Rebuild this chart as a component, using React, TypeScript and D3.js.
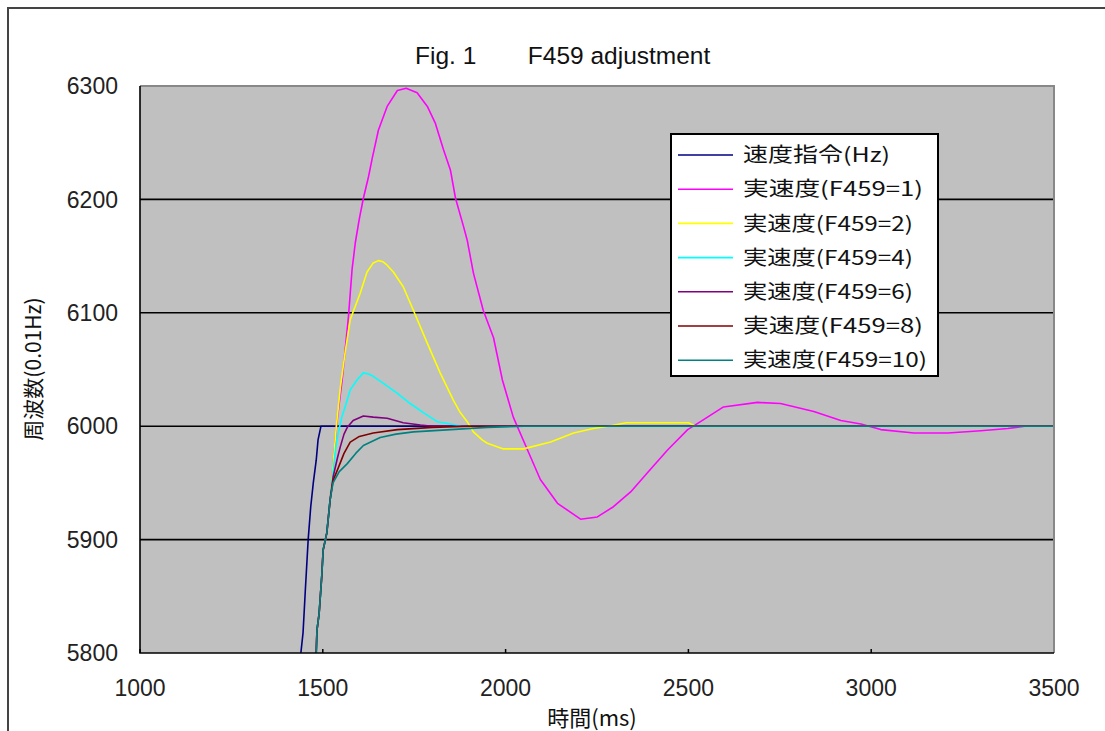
import React, { useEffect, useRef } from "react";
import * as d3 from "d3";

// time (ms) / frequency (0.01Hz) pairs
const cmdData: [number, number][] = [
  [1430, 5760], [1440, 5800], [1446, 5818], [1452, 5854], [1460, 5900], [1467, 5929],
  [1474, 5950], [1482, 5970], [1487, 5988], [1495, 6000], [3500, 6000],
];

// shared start of every response curve
const risePrefix: [number, number][] = [
  [1478, 5780], [1482, 5800], [1484, 5820], [1490, 5835], [1497, 5867], [1501, 5891],
  [1511, 5906], [1520, 5935],
];

const f1Data: [number, number][] = [
  [1528, 5965], [1539, 6005], [1553, 6041], [1561, 6067], [1570, 6096], [1580, 6138],
  [1589, 6162], [1600, 6183], [1611, 6201], [1625, 6220], [1635, 6236], [1652, 6261],
  [1676, 6282], [1704, 6296], [1728, 6298], [1758, 6294], [1786, 6282], [1808, 6267],
  [1830, 6244], [1849, 6226], [1863, 6201], [1885, 6176], [1895, 6164], [1912, 6135],
  [1939, 6102], [1967, 6078], [1991, 6041], [2021, 6008], [2060, 5979], [2095, 5953],
  [2142, 5932], [2205, 5918], [2251, 5920], [2295, 5929], [2342, 5942], [2388, 5959],
  [2443, 5979], [2498, 5997], [2533, 6004], [2596, 6017], [2689, 6021], [2752, 6020],
  [2843, 6013], [2917, 6005], [2972, 6002], [3026, 5997], [3117, 5994], [3210, 5994],
  [3300, 5996], [3374, 5998], [3420, 6000], [3500, 6000],
];

const f2Data: [number, number][] = [
  [1528, 5965], [1537, 6000], [1548, 6034], [1561, 6065], [1575, 6094], [1602, 6117],
  [1621, 6136], [1638, 6144], [1652, 6146], [1665, 6145], [1676, 6142], [1693, 6136],
  [1720, 6123], [1748, 6102], [1786, 6073], [1821, 6047], [1857, 6023], [1876, 6012],
  [1895, 6004], [1912, 5995], [1936, 5988], [1950, 5985], [1994, 5980], [2049, 5980],
  [2123, 5986], [2186, 5994], [2240, 5998], [2280, 6000], [2330, 6003], [2500, 6003],
  [2520, 6000], [3500, 6000],
];

const f4Data: [number, number][] = [
  [1528, 5960], [1535, 5980], [1542, 5994], [1552, 6008], [1561, 6017], [1575, 6032],
  [1594, 6041], [1611, 6047], [1625, 6046], [1638, 6044], [1665, 6038], [1704, 6029],
  [1739, 6020], [1775, 6012], [1813, 6004], [1849, 6002], [1880, 6000], [3500, 6000],
];

const f6Data: [number, number][] = [
  [1528, 5955], [1540, 5972], [1548, 5982], [1558, 5993], [1567, 5999], [1583, 6005],
  [1611, 6009], [1638, 6008], [1676, 6007], [1720, 6003], [1767, 6001], [1800, 6000],
  [3500, 6000],
];

const f8Data: [number, number][] = [
  [1528, 5952], [1542, 5963], [1558, 5976], [1575, 5986], [1600, 5991], [1638, 5994],
  [1704, 5997], [1800, 5999], [1900, 6000], [3500, 6000],
];

const f10Data: [number, number][] = [
  [1528, 5950], [1545, 5960], [1567, 5967], [1590, 5976], [1611, 5983], [1657, 5990],
  [1700, 5993], [1748, 5995], [1850, 5997], [1950, 5999], [2050, 6000], [3500, 6000],
];

const seriesNames = [
  "速度指令(Hz)",
  "実速度(F459=1)",
  "実速度(F459=2)",
  "実速度(F459=4)",
  "実速度(F459=6)",
  "実速度(F459=8)",
  "実速度(F459=10)",
];
const seriesColors = ["#000080", "#ff00ff", "#ffff00", "#00ffff", "#800080", "#800000", "#008080"];
const legendWidths = [147, 180, 170, 170, 170, 180, 184];

const xTicks = [1000, 1500, 2000, 2500, 3000, 3500];
const yTicks = [5800, 5900, 6000, 6100, 6200, 6300];

const App = () => {
  const ref = useRef<SVGSVGElement>(null);

  useEffect(() => {
    const width = 1105,
      height = 731;
    const left = 140,
      right = 1054,
      top = 86,
      bottom = 653;

    const svg = d3.select(ref.current);
    svg.selectAll("*").remove();
    svg.attr("width", width).attr("height", height);

    svg.append("rect").attr("width", width).attr("height", height).attr("fill", "white");

    // outer chart frame
    svg
      .append("rect")
      .attr("x", 8)
      .attr("y", 8)
      .attr("width", width + 20)
      .attr("height", height + 20)
      .attr("fill", "none")
      .attr("stroke", "#444")
      .attr("stroke-width", 2);

    const x = d3.scaleLinear().domain([1000, 3500]).range([left, right]);
    const y = d3.scaleLinear().domain([5800, 6300]).range([bottom, top]);

    // plot area
    svg
      .append("rect")
      .attr("x", left)
      .attr("y", top)
      .attr("width", right - left)
      .attr("height", bottom - top)
      .attr("fill", "#c0c0c0");

    svg
      .append("defs")
      .append("clipPath")
      .attr("id", "plotClip")
      .append("rect")
      .attr("x", left)
      .attr("y", top)
      .attr("width", right - left)
      .attr("height", bottom - top);

    // gridlines
    svg
      .selectAll(".grid")
      .data(yTicks.slice(1, -1))
      .enter()
      .append("line")
      .attr("x1", left)
      .attr("x2", right)
      .attr("y1", (d) => y(d))
      .attr("y2", (d) => y(d))
      .attr("stroke", "black")
      .attr("stroke-width", 1.6);

    // x ticks (inward)
    svg
      .selectAll(".xtick")
      .data(xTicks)
      .enter()
      .append("line")
      .attr("x1", (d) => x(d))
      .attr("x2", (d) => x(d))
      .attr("y1", bottom)
      .attr("y2", bottom - 4)
      .attr("stroke", "black")
      .attr("stroke-width", 1.5);

    // lines
    const line = d3
      .line<[number, number]>()
      .x((d) => x(d[0]))
      .y((d) => y(d[1]));

    const allSeries = [
      cmdData,
      risePrefix.concat(f1Data),
      risePrefix.concat(f2Data),
      risePrefix.concat(f4Data),
      risePrefix.concat(f6Data),
      risePrefix.concat(f8Data),
      risePrefix.concat(f10Data),
    ];

    const plot = svg.append("g").attr("clip-path", "url(#plotClip)");
    plot
      .selectAll("path")
      .data(allSeries)
      .enter()
      .append("path")
      .attr("d", (d) => line(d))
      .attr("fill", "none")
      .attr("stroke", (d, i) => seriesColors[i])
      .attr("stroke-width", 1.6)
      .attr("stroke-linejoin", "round");

    // plot border: gray top/right, black left/bottom
    svg
      .append("path")
      .attr("d", `M${left},${top}H${right}V${bottom}`)
      .attr("fill", "none")
      .attr("stroke", "#888")
      .attr("stroke-width", 2);
    svg
      .append("path")
      .attr("d", `M${left},${top}V${bottom}H${right}`)
      .attr("fill", "none")
      .attr("stroke", "black")
      .attr("stroke-width", 1.6);

    const numFont = "'Liberation Sans', Arial, sans-serif";
    const cjkFont = "'Noto Sans CJK JP', sans-serif";

    // tick labels
    svg
      .selectAll(".ylab")
      .data(yTicks)
      .enter()
      .append("text")
      .attr("x", 118)
      .attr("y", (d) => y(d))
      .attr("dy", "0.36em")
      .attr("text-anchor", "end")
      .style("font-family", numFont)
      .style("font-size", "23px")
      .attr("fill", "#222")
      .text((d) => d);

    svg
      .selectAll(".xlab")
      .data(xTicks)
      .enter()
      .append("text")
      .attr("x", (d) => x(d))
      .attr("y", 696)
      .attr("text-anchor", "middle")
      .style("font-family", numFont)
      .style("font-size", "23px")
      .attr("fill", "#222")
      .text((d) => d);

    // title
    const title = svg
      .append("text")
      .attr("y", 64)
      .style("font-family", numFont)
      .style("font-size", "24.5px")
      .attr("fill", "#111");
    title.append("tspan").attr("x", 415).text("Fig. 1");
    title.append("tspan").attr("x", 521).text(" F459 adjustment");

    // axis titles
    svg
      .append("text")
      .attr("x", 592)
      .attr("y", 726)
      .attr("text-anchor", "middle")
      .style("font-family", cjkFont)
      .style("font-size", "22px")
      .attr("fill", "#111")
      .text("時間(ms)");

    svg
      .append("text")
      .attr("transform", "translate(41,369) rotate(-90)")
      .attr("text-anchor", "middle")
      .style("font-family", cjkFont)
      .style("font-size", "21px")
      .attr("fill", "#111")
      .text("周波数(0.01Hz)");

    // legend
    const legend = svg.append("g");
    legend
      .append("rect")
      .attr("x", 671)
      .attr("y", 134)
      .attr("width", 267)
      .attr("height", 242)
      .attr("fill", "white")
      .attr("stroke", "black")
      .attr("stroke-width", 2);

    const rows = legend
      .selectAll(".row")
      .data(seriesNames)
      .enter()
      .append("g")
      .attr("transform", (d, i) => `translate(0,${155 + i * 34.2})`);

    rows
      .append("line")
      .attr("x1", 678)
      .attr("x2", 733)
      .attr("stroke", (d, i) => seriesColors[i])
      .attr("stroke-width", 1.6);

    rows
      .append("text")
      .attr("x", 743)
      .attr("dy", "0.36em")
      .attr("textLength", (d, i) => legendWidths[i])
      .attr("lengthAdjust", "spacingAndGlyphs")
      .style("font-family", cjkFont)
      .style("font-size", "20px")
      .attr("fill", "#111")
      .text((d) => d);
  }, []);

  return (
    <svg ref={ref} width={1105} height={731} style={{ position: "absolute", left: 0, top: 0 }}></svg>
  );
};

export default App;
